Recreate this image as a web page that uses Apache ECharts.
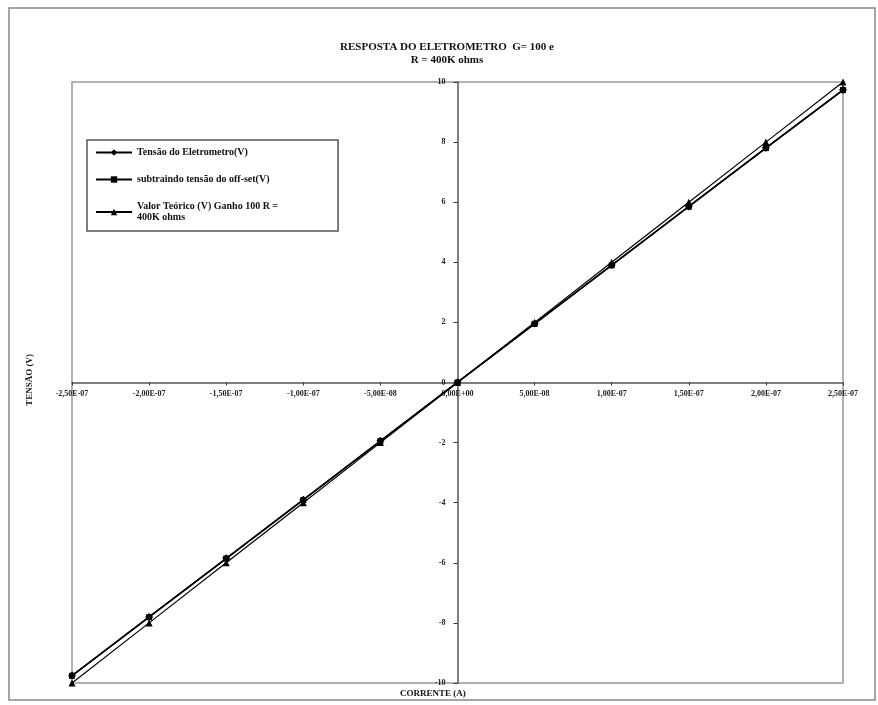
<!DOCTYPE html>
<html>
<head>
<meta charset="utf-8">
<script src="https://cdn.jsdelivr.net/npm/echarts@6/dist/echarts.min.js"></script>
<style>html,body{margin:0;padding:0;background:#fff;}#c{width:878px;height:705px;}</style>
</head>
<body>
<div id="c"></div>
<script>
var currents = [-2.5e-7, -2.0e-7, -1.5e-7, -1.0e-7, -5.0e-8, 0, 5.0e-8, 1.0e-7, 1.5e-7, 2.0e-7, 2.5e-7];
var tensaoEletrometro = [-9.75, -7.80, -5.85, -3.90, -1.94, 0.01, 1.96, 3.91, 5.86, 7.81, 9.74];
var subtraindoOffset = [-9.76, -7.81, -5.86, -3.91, -1.95, 0.00, 1.95, 3.90, 5.85, 7.80, 9.73];
var valorTeorico = [-10, -8, -6, -4, -2, 0, 2, 4, 6, 8, 10];
var seriesNames = ['Tensão do Eletrometro(V)', 'subtraindo tensão do off-set(V)', 'Valor Teórico (V) Ganho 100 R =\n400K ohms'];
var titleText = 'RESPOSTA DO ELETROMETRO  G= 100 e\nR = 400K ohms';

function pairs(ys) { return currents.map(function (x, i) { return [x, ys[i]]; }); }
function fmtX(v) {
  if (Math.abs(v) < 1e-20) return '0,00E+00';
  var s = v.toExponential(2);
  var parts = s.split('e');
  var exp = parseInt(parts[1], 10);
  var sign = exp < 0 ? '-' : '+';
  var e = Math.abs(exp);
  return parts[0].replace('.', ',') + 'E' + sign + (e < 10 ? '0' + e : e);
}
var font = 'Liberation Serif';
var chart = echarts.init(document.getElementById('c'));
var option = {
  backgroundColor: '#fff',
  animation: false,
  title: {
    text: titleText, left: 442, top: 36, textAlign: 'center',
    textStyle: { fontFamily: font, fontSize: 11, fontWeight: 'bold', color: '#111', lineHeight: 13 }
  },
  graphic: [
    { type: 'rect', shape: { x: 9, y: 8, width: 866, height: 692 }, style: { fill: 'none', stroke: '#888', lineWidth: 1.5 }, silent: true, z: -1 },
    { type: 'text', left: 400, top: 689, style: { text: 'CORRENTE (A)', font: 'bold 9px "Liberation Serif"', fill: '#111' } },
    { type: 'text', x: 30, y: 380, rotation: Math.PI / 2, style: { text: 'TENSÃO (V)', font: 'bold 9px "Liberation Serif"', fill: '#111', align: 'center', verticalAlign: 'middle' } }
  ],
  legend: {
    orient: 'vertical', left: 87, top: 140, width: 264, height: 92,
    padding: [7, 60, 8, 8], itemGap: 16, itemWidth: 36, itemHeight: 8,
    borderColor: '#555', borderWidth: 1.5,
    data: seriesNames,
    textStyle: { fontFamily: font, fontSize: 10, fontWeight: 'bold', color: '#111', lineHeight: 11 }
  },
  grid: { left: 72, right: 35, top: 82, bottom: 22, show: true, borderColor: '#999', borderWidth: 1.5 },
  xAxis: {
    type: 'value', min: -2.5e-7, max: 2.5e-7, interval: 5e-8,
    axisLine: { onZero: false, lineStyle: { color: '#555', width: 1.5 } },
    axisTick: { show: true, length: 3, lineStyle: { color: '#333' } },
    splitLine: { show: false },
    axisLabel: { formatter: fmtX, fontFamily: font, fontSize: 8, fontWeight: 'bold', color: '#222', margin: 7 }
  },
  yAxis: {
    type: 'value', min: -10, max: 10, interval: 2,
    axisLine: { onZero: false, lineStyle: { color: '#555', width: 1.5 } },
    axisTick: { show: true, length: 4, lineStyle: { color: '#333' } },
    splitLine: { show: false },
    axisLabel: { fontFamily: font, fontSize: 8, fontWeight: 'bold', color: '#222', margin: 12 }
  },
  series: [
    { name: seriesNames[0], type: 'line', data: pairs(tensaoEletrometro), symbol: 'diamond', symbolSize: 8,
      lineStyle: { color: '#000', width: 1.5 }, itemStyle: { color: '#000' } },
    { name: seriesNames[1], type: 'line', data: pairs(subtraindoOffset), symbol: 'rect', symbolSize: 6,
      lineStyle: { color: '#000', width: 1.5 }, itemStyle: { color: '#000' } },
    { name: seriesNames[2], type: 'line', data: pairs(valorTeorico), symbol: 'triangle', symbolSize: 7,
      lineStyle: { color: '#000', width: 1.2 }, itemStyle: { color: '#000' } }
  ]
};
chart.setOption(option);
// place the axes so they cross at the origin, with their labels beside them
var origin = chart.convertToPixel({ gridIndex: 0 }, [0, 0]);
var corner = chart.convertToPixel({ gridIndex: 0 }, [-2.5e-7, -10]);
chart.setOption({
  xAxis: { offset: -(corner[1] - origin[1]) },
  yAxis: { offset: -(origin[0] - corner[0]) }
});
</script>
</body>
</html>
